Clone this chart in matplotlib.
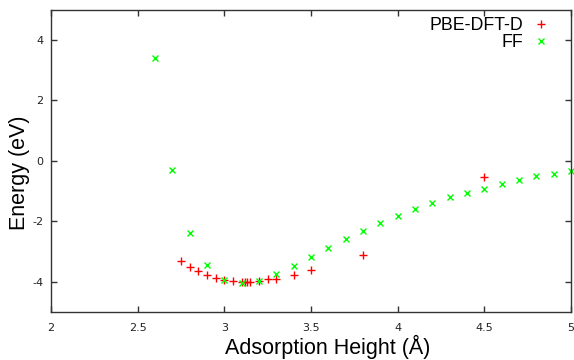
import matplotlib
matplotlib.use("Agg")
import matplotlib.pyplot as plt
from matplotlib.ticker import FormatStrFormatter

# PBE-DFT-D energies vs adsorption height
pbe_x = [2.75, 2.8, 2.85, 2.9, 2.95, 3.0, 3.05, 3.1, 3.12, 3.13, 3.15,
         3.2, 3.25, 3.3, 3.4, 3.5, 3.8, 4.5]
pbe_y = [-3.31, -3.51, -3.66, -3.78, -3.87, -3.94, -3.98, -4.0, -4.01, -4.01, -4.0,
         -3.96, -3.92, -3.9, -3.77, -3.62, -3.12, -0.52]

# force field energies
ff_x = [2.6, 2.7, 2.8, 2.9, 3.0, 3.1, 3.2, 3.3, 3.4, 3.5, 3.6, 3.7, 3.8,
        3.9, 4.0, 4.1, 4.2, 4.3, 4.4, 4.5, 4.6, 4.7, 4.8, 4.9, 5.0]
ff_y = [3.4, -0.31, -2.37, -3.45, -3.94, -4.04, -3.96, -3.75, -3.48, -3.17,
        -2.88, -2.59, -2.31, -2.04, -1.81, -1.60, -1.39, -1.21, -1.06, -0.92,
        -0.76, -0.64, -0.51, -0.43, -0.33]

xticks = [2, 2.5, 3, 3.5, 4, 4.5, 5]
yticks = [-4, -2, 0, 2, 4]

fig = plt.figure(figsize=(5.74, 3.6), dpi=100)
ax = fig.add_axes([51 / 574, 48 / 360, 520 / 574, 302.25 / 360])

ax.plot(pbe_x, pbe_y, '+', color='#ff0000', ms=5.5, mew=1.0, ls='none',
        label='PBE-DFT-D', clip_on=False)
ax.plot(ff_x, ff_y, 'x', color='#00ff00', ms=4.5, mew=1.0, ls='none',
        label='FF', clip_on=False)

ax.set_xlim(2, 5)
ax.set_ylim(-5, 5)
ax.set_xticks(xticks)
ax.set_yticks(yticks)
ax.xaxis.set_major_formatter(FormatStrFormatter('%g'))
ax.yaxis.set_major_formatter(FormatStrFormatter('%g'))

for s in ax.spines.values():
    s.set_color('#333333')
    s.set_linewidth(1.0)

ax.tick_params(direction='in', length=4.5, width=1.0, color='#333333',
               top=True, right=True, labelsize=8, labelcolor='#222222')
ax.tick_params(axis='x', pad=8)
ax.tick_params(axis='y', pad=5.5)

lab_font = 'Liberation Sans'
ax.set_xlabel('Adsorption Height (Å)', fontsize=15.5, family=lab_font)
ax.xaxis.set_label_coords(0.532, -0.138)
ax.xaxis.label.set_va('baseline')

ax.set_ylabel('Energy (eV)', fontsize=15.5, family=lab_font)
ax.yaxis.set_label_coords(-0.0615, 0.46)
ax.yaxis.label.set_rotation_mode('default')
ax.yaxis.label.set_va('center')
ax.yaxis.label.set_ha('center')

leg = ax.legend(loc='upper right', markerfirst=False, frameon=False,
                prop={'family': lab_font, 'size': 12.8},
                handlelength=1.2, handletextpad=0.4, labelspacing=0.0,
                borderaxespad=0.0, bbox_to_anchor=(0.976, 1.0))

fig.savefig('out.png', dpi=100)
